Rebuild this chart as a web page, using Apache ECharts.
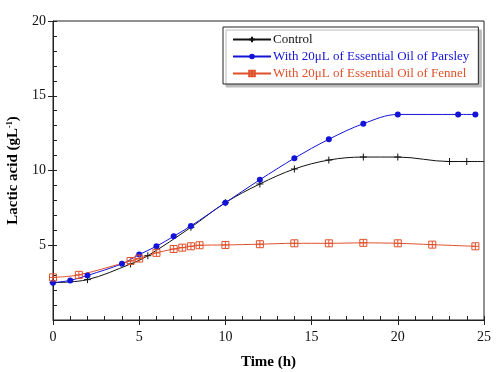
<!DOCTYPE html>
<html><head><meta charset="utf-8">
<script src="https://cdn.jsdelivr.net/npm/echarts@6/dist/echarts.min.js"></script>
<style>html,body{margin:0;padding:0;background:#fff}#c{width:500px;height:372px}</style>
</head><body><div id="c"></div>
<script>
const seriesNames = ['Control', 'With 20\u03bcL of Essential Oil of Parsley', 'With 20\u03bcL of Essential Oil of Fennel'];
const controlX = [0, 2, 4.5, 5.5, 8, 10, 12, 14, 16, 18, 20, 23, 24, 25];
const controlY = [2.5, 2.7, 3.75, 4.3, 6.2, 7.85, 9.1, 10.1, 10.7, 10.9, 10.9, 10.6, 10.6, 10.6];
const parsleyX = [0, 1, 2, 4, 5, 6, 7, 8, 10, 12, 14, 16, 18, 20, 23.5, 24.5];
const parsleyY = [2.5, 2.65, 2.98, 3.76, 4.38, 4.93, 5.6, 6.29, 7.85, 9.38, 10.82, 12.09, 13.13, 13.75, 13.75, 13.75];
const fennelX = [0, 1.5, 4.5, 5, 6, 7, 7.5, 8, 8.5, 10, 12, 14, 16, 18, 20, 22, 24.5];
const fennelY = [2.85, 3.02, 3.95, 4.11, 4.49, 4.75, 4.84, 4.93, 5.0, 5.02, 5.07, 5.13, 5.13, 5.16, 5.13, 5.04, 4.93];
const xTicks = [0, 5, 10, 15, 20, 25];
const yTicks = [0, 5, 10, 15, 20];

const colors = ['#111111', '#1414d8', '#e0502a'];
const font = '"Liberation Serif", "Times New Roman", serif';
const pair = (xs, ys) => xs.map((x, i) => [x, ys[i]]);
const plus = 'path://M5,0L5,10M0,5L10,5';
const boxPlus = 'path://M0,0L10,0L10,10L0,10Z M5,0L5,10 M0,5L10,5';

const ctrlData = pair(controlX, controlY).map((p, i, a) => i === a.length - 1 ? {value: p, symbol: 'none'} : p);

const chart = echarts.init(document.getElementById('c'), null, {renderer: 'canvas'});
const axisLineStyle = {color: '#222', width: 1};
chart.setOption({
  animation: false,
  textStyle: {fontFamily: font},
  grid: {left: 53, right: 16, top: 21, bottom: 52, show: true, borderColor: '#222', borderWidth: 1,
    backgroundColor: 'transparent', outerBoundsMode: 'none', containLabel: false},
  legend: {
    orient: 'vertical', left: 223, top: 27,
    padding: [6, 9, 4, 9], itemGap: 4, itemWidth: 38, itemHeight: 7,
    backgroundColor: '#fff', borderColor: '#222', borderWidth: 1,
    shadowColor: '#bbb', shadowBlur: 0, shadowOffsetX: 3, shadowOffsetY: 3,
    textStyle: {fontFamily: font, fontSize: 13, padding: [0, 0, 0, -3]},
    data: seriesNames.map((n, i) => ({name: n, textStyle: {color: colors[i]}}))
  },
  xAxis: [{
    type: 'value', min: 0, max: 25, interval: 5,
    name: 'Time (h)', nameLocation: 'middle', nameGap: 35,
    nameTextStyle: {fontFamily: font, fontSize: 15, fontWeight: 'bold', color: '#000'},
    axisLine: {lineStyle: axisLineStyle},
    axisTick: {show: true, inside: false, length: 5, lineStyle: axisLineStyle},
    axisLabel: {fontFamily: font, fontSize: 14, color: '#111', margin: 10},
    splitLine: {show: false}
  }, {
    type: 'value', min: 0, max: 25, interval: 1, position: 'bottom',
    axisLine: {show: false}, axisLabel: {show: false},
    axisTick: {show: true, inside: true, length: 4, lineStyle: axisLineStyle},
    splitLine: {show: false}
  }],
  yAxis: [{
    type: 'value', min: 0, max: 20, interval: 5,
    name: 'Lactic acid (gL{sup|-1})', nameLocation: 'middle', nameGap: 18, nameRotate: 90,
    nameTextStyle: {fontFamily: font, fontSize: 15, fontWeight: 'bold', color: '#000',
      rich: {sup: {fontFamily: font, fontSize: 8, fontWeight: 'bold', color: '#000', verticalAlign: 'top', padding: [0, 0, 6, 0]}}},
    axisLine: {show: true, lineStyle: axisLineStyle},
    axisTick: {show: true, inside: false, length: 5, lineStyle: axisLineStyle},
    axisLabel: {fontFamily: font, fontSize: 14, color: '#111', margin: 7, showMinLabel: false},
    splitLine: {show: false}
  }, {
    type: 'value', min: 0, max: 20, interval: 1, position: 'left',
    axisLine: {show: false}, axisLabel: {show: false},
    axisTick: {show: true, inside: true, length: 4, lineStyle: axisLineStyle},
    splitLine: {show: false}
  }],
  series: [{
    name: seriesNames[0], type: 'line', data: ctrlData, smooth: 0.35,
    symbol: plus, symbolSize: 7, showAllSymbol: true,
    lineStyle: {color: colors[0], width: 1},
    itemStyle: {color: colors[0], borderColor: colors[0], borderWidth: 1}
  }, {
    name: seriesNames[1], type: 'line', data: pair(parsleyX, parsleyY), smooth: 0.35,
    symbol: 'circle', symbolSize: 6, showAllSymbol: true,
    lineStyle: {color: colors[1], width: 1},
    itemStyle: {color: colors[1]}
  }, {
    name: seriesNames[2], type: 'line', data: pair(fennelX, fennelY), smooth: 0.35,
    symbol: boxPlus, symbolSize: 7, showAllSymbol: true,
    lineStyle: {color: colors[2], width: 1},
    itemStyle: {color: 'rgba(255,255,255,0)', borderColor: colors[2], borderWidth: 1}
  }]
});
</script></body></html>
